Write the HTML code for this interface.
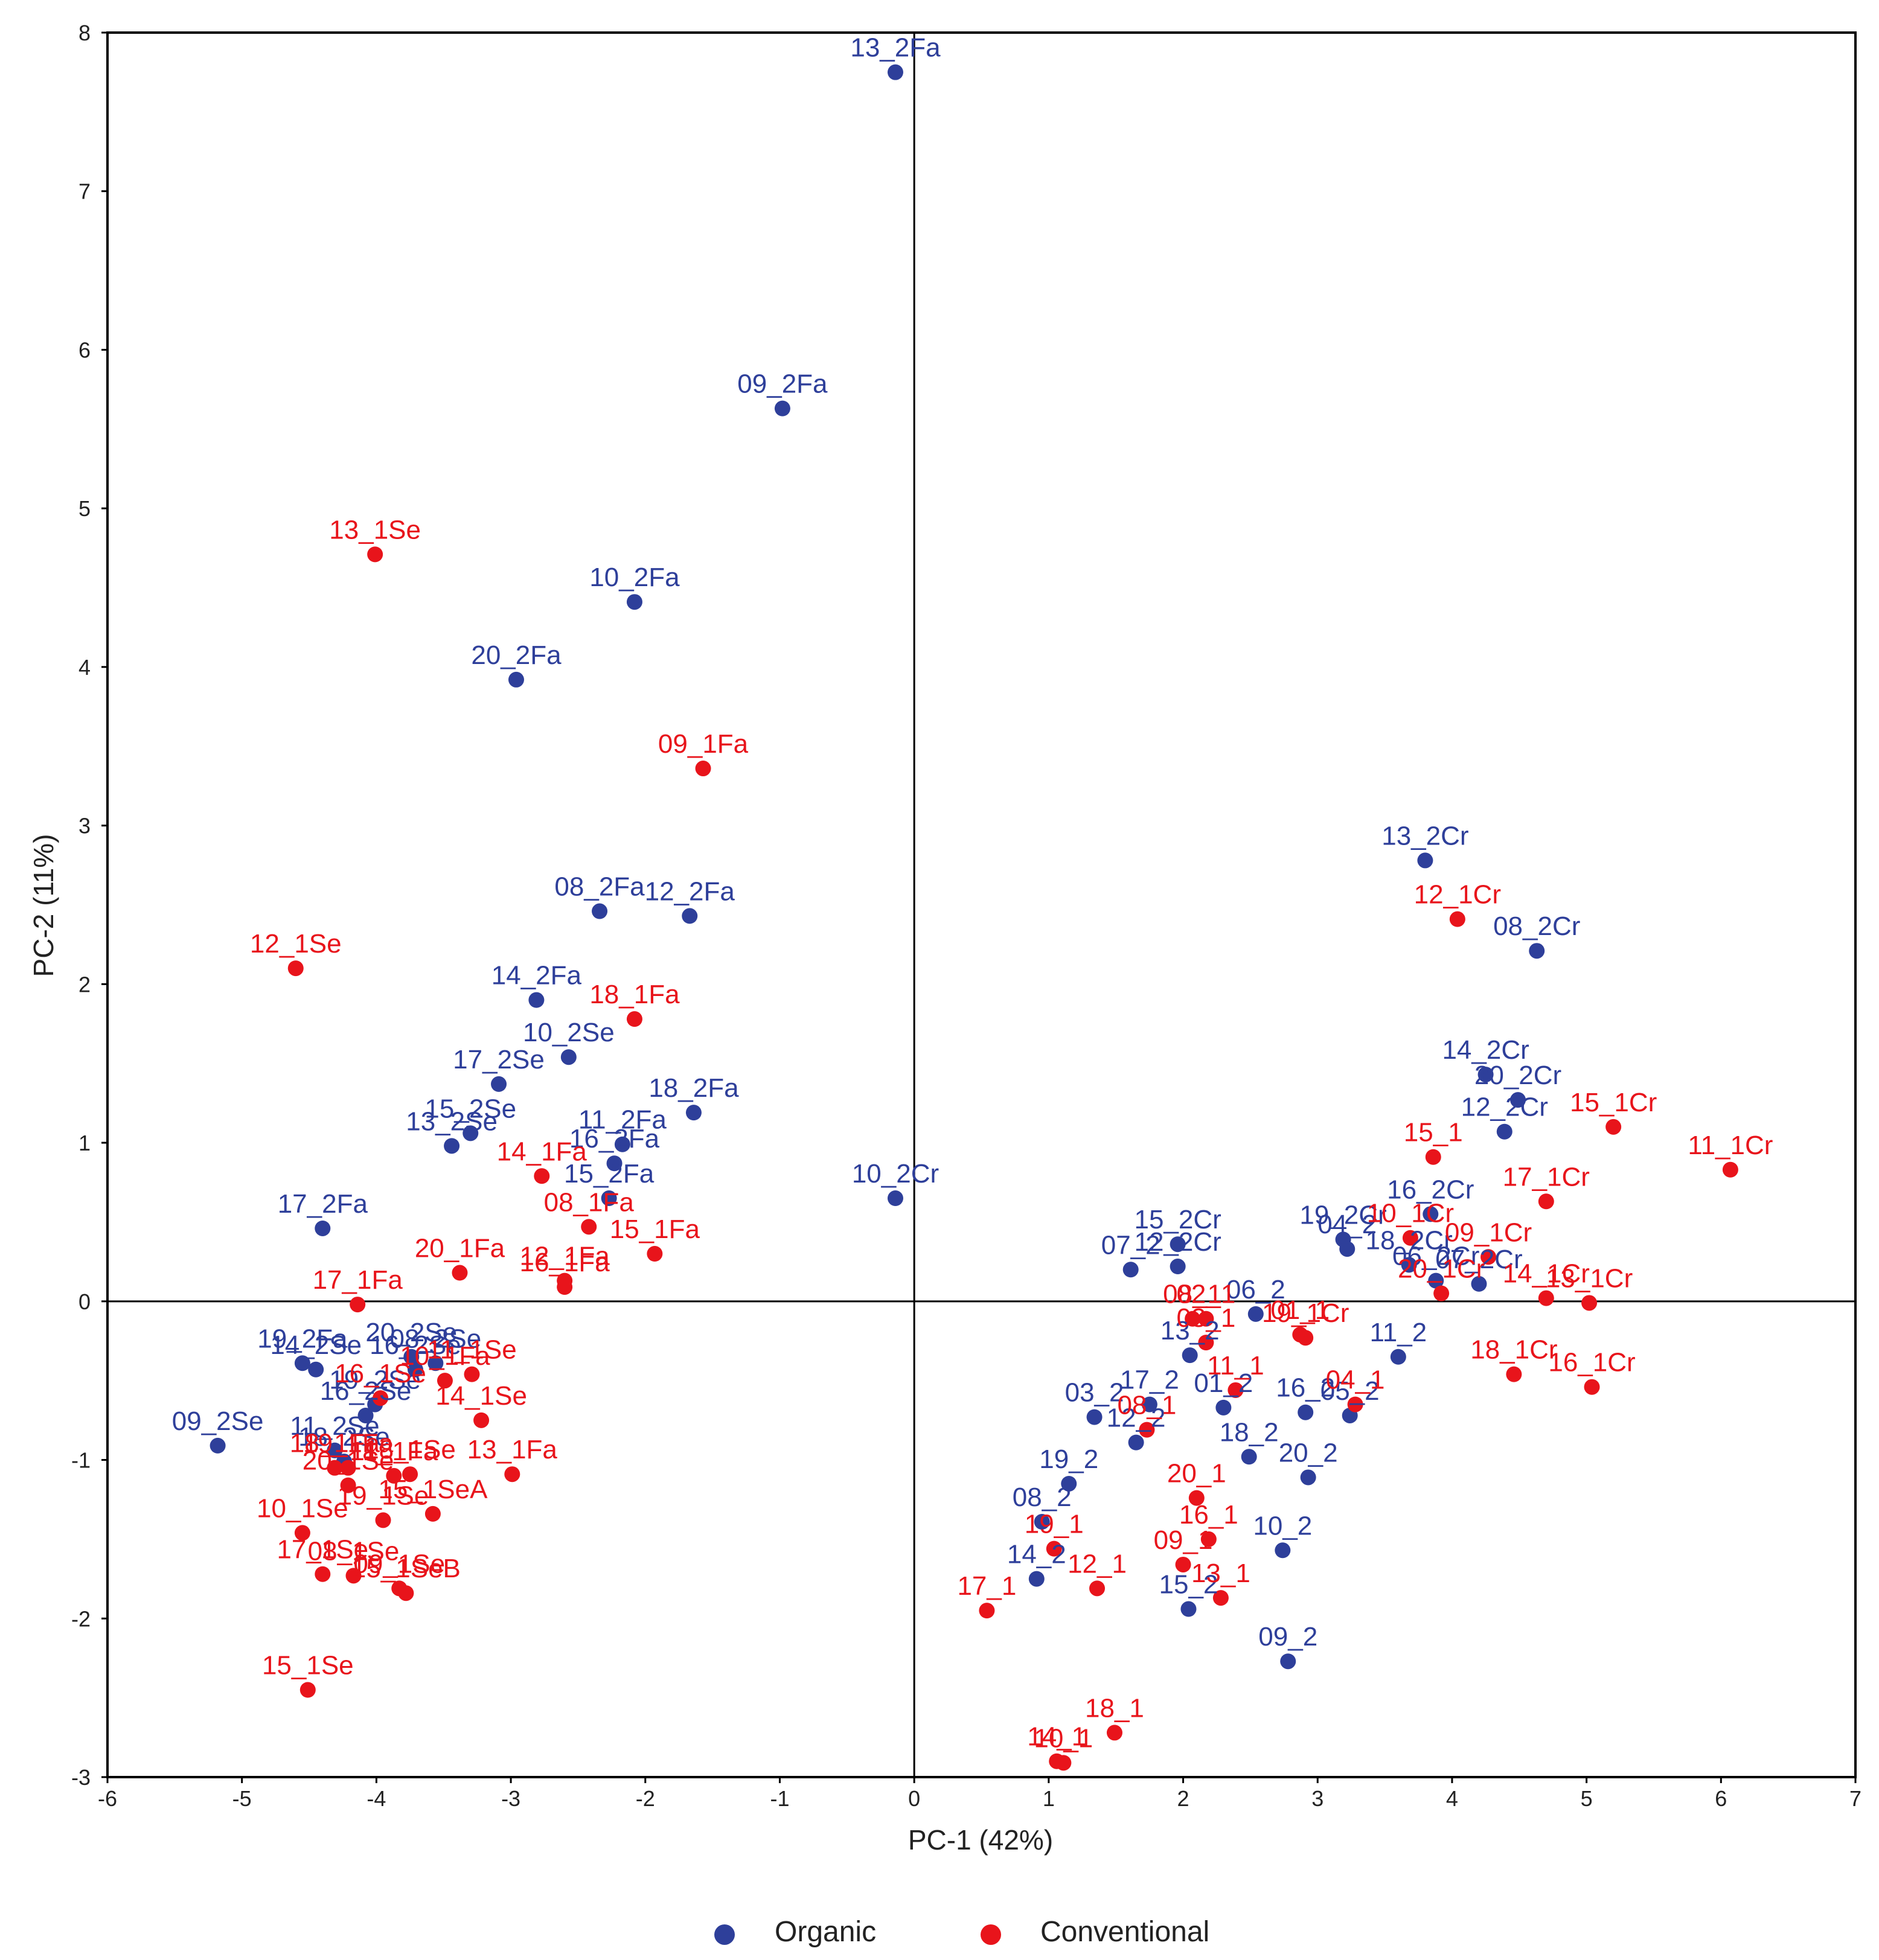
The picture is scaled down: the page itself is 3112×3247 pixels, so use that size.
<!DOCTYPE html>
<html><head><meta charset="utf-8"><style>
html,body{margin:0;padding:0;background:#fff;}
svg{display:block;font-family:"Liberation Sans",Arial,sans-serif;}
</style></head><body>
<svg id="chart" width="3112" height="3247" viewBox="0 0 3112 3247" xmlns="http://www.w3.org/2000/svg">
<rect x="0" y="0" width="3112" height="3247" fill="#fff"/>
<g id="grid"></g><g id="marks"></g><g id="labels"></g>
</svg>
<script>
const xTicks=[-6,-5,-4,-3,-2,-1,0,1,2,3,4,5,6,7];
const yTicks=[-3,-2,-1,0,1,2,3,4,5,6,7,8];
const organicNames=["13_2Fa","09_2Fa","10_2Fa","20_2Fa","08_2Fa","12_2Fa","14_2Fa","10_2Se","17_2Se","18_2Fa","15_2Se","13_2Se","11_2Fa","16_2Fa","15_2Fa","10_2Cr","17_2Fa","13_2Cr","08_2Cr","14_2Cr","20_2Cr","12_2Cr","16_2Cr","19_2Cr","04_2","18_2Cr","06_2Cr","07_2Cr","15_2Cr","07_2","12_2Cr","06_2","13_2","11_2","03_2","17_2","01_2","16_2","05_2","12_2","18_2","20_2","19_2","08_2","14_2","10_2","15_2","09_2","19_2Fa","14_2Se","20_2Se","08_2Se","16_2Se","19_2Se","16_2Se","11_2Se","18_2Se","09_2Se"];
const organicX=[-0.14,-0.98,-2.08,-2.96,-2.34,-1.67,-2.81,-2.57,-3.09,-1.64,-3.30,-3.44,-2.17,-2.23,-2.27,-0.14,-4.40,3.80,4.63,4.25,4.49,4.39,3.84,3.19,3.22,3.68,3.88,4.20,1.96,1.61,1.96,2.54,2.05,3.60,1.34,1.75,2.30,2.91,3.24,1.65,2.49,2.93,1.15,0.95,0.91,2.74,2.04,2.78,-4.55,-4.45,-3.74,-3.56,-3.71,-4.01,-4.08,-4.31,-4.24,-5.18];
const organicY=[7.75,5.63,4.41,3.92,2.46,2.43,1.90,1.54,1.37,1.19,1.06,0.98,0.99,0.87,0.65,0.65,0.46,2.78,2.21,1.43,1.27,1.07,0.55,0.39,0.33,0.23,0.13,0.11,0.36,0.20,0.22,-0.08,-0.34,-0.35,-0.73,-0.65,-0.67,-0.70,-0.72,-0.89,-0.98,-1.11,-1.15,-1.39,-1.75,-1.57,-1.94,-2.27,-0.39,-0.43,-0.35,-0.39,-0.43,-0.65,-0.72,-0.94,-1.01,-0.91];
const convNames=["13_1Se","09_1Fa","12_1Se","18_1Fa","14_1Fa","08_1Fa","15_1Fa","20_1Fa","12_1Fa","16_1Fa","17_1Fa","16_1Se","10_1Fa","11_1Se","14_1Se","13_1Fa","11_1Fa","18_1Se","19_1Fa","18_1Fa","20_1Se","19_1Se","15_1SeA","10_1Se","17_1Se","08_1Se","09_1Se","15_1SeB","15_1Se","12_1Cr","15_1Cr","11_1Cr","15_1","17_1Cr","10_1Cr","09_1Cr","20_1Cr","14_1Cr","13_1Cr","08_1","02_1","03_1","01_1","19_1Cr","18_1Cr","16_1Cr","11_1","04_1","08_1","20_1","16_1","19_1","09_1","13_1","12_1","17_1","18_1","14_1","10_1"];
const convX=[-4.01,-1.57,-4.60,-2.08,-2.77,-2.42,-1.93,-3.38,-2.60,-2.60,-4.14,-3.97,-3.49,-3.29,-3.22,-2.99,-3.87,-3.75,-4.21,-4.31,-4.21,-3.95,-3.58,-4.55,-4.40,-4.17,-3.83,-3.78,-4.51,4.04,5.20,6.07,3.86,4.70,3.69,4.27,3.92,4.70,5.02,2.07,2.17,2.17,2.87,2.91,4.46,5.04,2.39,3.28,1.73,2.10,2.19,1.04,2.00,2.28,1.36,0.54,1.49,1.06,1.11];
const convY=[4.71,3.36,2.10,1.78,0.79,0.47,0.30,0.18,0.13,0.09,-0.02,-0.61,-0.50,-0.46,-0.75,-1.09,-1.10,-1.09,-1.05,-1.05,-1.16,-1.38,-1.34,-1.46,-1.72,-1.73,-1.81,-1.84,-2.45,2.41,1.10,0.83,0.91,0.63,0.40,0.28,0.05,0.02,-0.01,-0.11,-0.11,-0.26,-0.21,-0.23,-0.46,-0.54,-0.56,-0.65,-0.81,-1.24,-1.50,-1.56,-1.66,-1.87,-1.81,-1.95,-2.72,-2.90,-2.91];

const L=178,R=3073,T=54,B=2944,xMin=-6,xMax=7,yMin=-3,yMax=8;
const NS="http://www.w3.org/2000/svg";
const sx=v=>L+(v-xMin)/(xMax-xMin)*(R-L);
const sy=v=>B-(v-yMin)/(yMax-yMin)*(B-T);
const grid=document.getElementById('grid'),marks=document.getElementById('marks'),labels=document.getElementById('labels');
function mk(tag,attrs,parent,text){const e=document.createElementNS(NS,tag);for(const k in attrs)e.setAttribute(k,attrs[k]);if(text!==undefined)e.textContent=text;parent.appendChild(e);return e;}

let e=mk('rect',{x:L,y:T,width:R-L,height:B-T,fill:'none',stroke:'#000','stroke-width':4},grid);


e=mk('line',{x1:sx(0),x2:sx(0),y1:T,y2:B,stroke:'#000','stroke-width':3},grid);


e=mk('line',{x1:L,x2:R,y1:sy(0),y2:sy(0),stroke:'#000','stroke-width':3},grid);



xTicks.forEach(t=>{
  const x=sx(t);
  e=mk('line',{x1:x,x2:x,y1:B,y2:B+10,stroke:'#000','stroke-width':3},grid);
  
  
  e=mk('text',{x:x,y:B+48,'text-anchor':'middle','font-size':36,fill:'#222'},grid,String(t));
  
  
});
yTicks.forEach(t=>{
  const y=sy(t);
  e=mk('line',{x1:L-10,x2:L,y1:y,y2:y,stroke:'#000','stroke-width':3},grid);
  
  
  e=mk('text',{x:L-28,y:y+13,'text-anchor':'end','font-size':36,fill:'#222'},grid,String(t));
  
  
});
e=mk('text',{x:1624,y:3064,'text-anchor':'middle','font-size':46,fill:'#222'},grid,'PC-1 (42%)');


e=mk('text',{x:0,y:0,'text-anchor':'middle','font-size':46,fill:'#222',transform:'translate(88,1500) rotate(-90)'},grid,'PC-2 (11%)');



function series(names,xs,ys,color,nm){
  names.forEach((n,i)=>{
    const cx=sx(xs[i]),cy=sy(ys[i]);
    let c=mk('circle',{cx:cx,cy:cy,r:13,fill:color},marks);
    
    
    let t=mk('text',{x:cx,y:cy-26,'text-anchor':'middle','font-size':44,fill:color},labels,n);
    
    
  });
}
series(organicNames,organicX,organicY,'#2e3f9a','organic');
series(convNames,convX,convY,'#e8141b','conventional');

e=mk('circle',{cx:1200,cy:3205,r:17,fill:'#2e3f9a'},grid);


e=mk('text',{x:1283,y:3216,'font-size':48,fill:'#222'},grid,'Organic');


e=mk('circle',{cx:1641,cy:3205,r:17,fill:'#e8141b'},grid);


e=mk('text',{x:1723,y:3216,'font-size':48,fill:'#222'},grid,'Conventional');


</script>
</body></html>
